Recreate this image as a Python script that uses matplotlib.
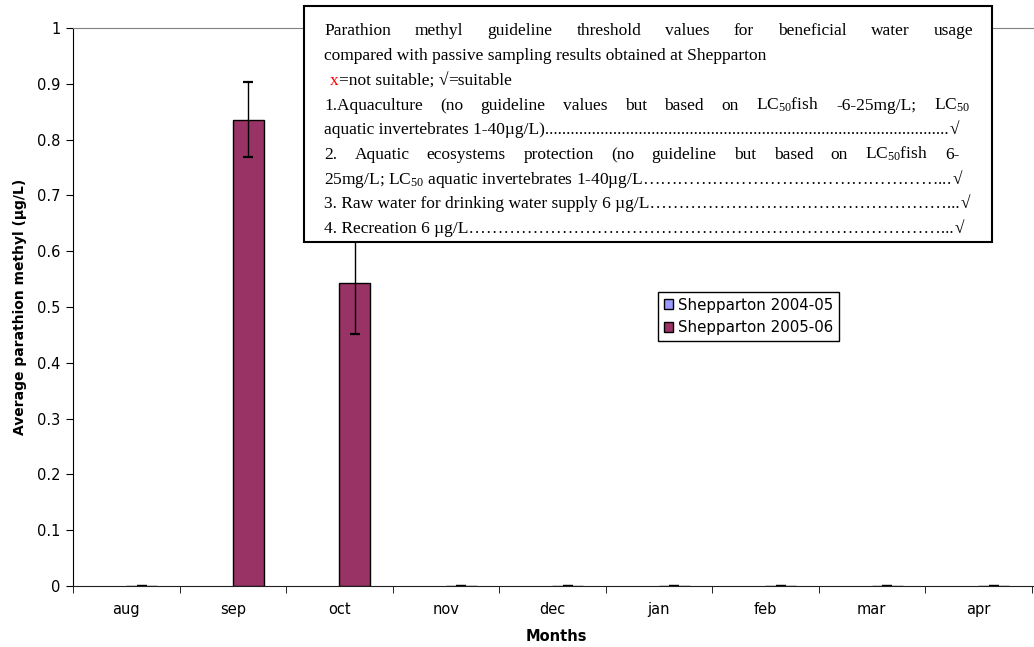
import numpy as np
import matplotlib
matplotlib.use('Agg')
import matplotlib.pyplot as plt
from matplotlib.patches import Rectangle, Patch
from matplotlib.transforms import IdentityTransform

# data
months = ['aug', 'sep', 'oct', 'nov', 'dec', 'jan', 'feb', 'mar', 'apr']
shep_0405 = [0, 0, 0, 0, 0, 0, 0, 0, 0]
shep_0506 = [0, 0.836, 0.5425, 0, 0, 0, 0, 0, 0]
err_0506 = [0, 0.067, 0.09, 0, 0, 0, 0, 0, 0]
series_names = ['Shepparton 2004-05', 'Shepparton 2005-06']
colors = ['#9999ff', '#993366']

plt.rcParams['font.family'] = ['DejaVu Sans']
plt.rcParams['mathtext.fontset'] = 'custom'
plt.rcParams['mathtext.rm'] = 'Liberation Serif'
plt.rcParams['mathtext.default'] = 'rm'

W, H = 1034, 647
fig = plt.figure(figsize=(W / 100, H / 100), dpi=100)
ax = fig.add_axes([73 / W, (H - 586) / H, (W - 73) / W, (586 - 28) / H])

x = np.arange(len(months))
bw = 0.29
ax.bar(x - bw / 2, shep_0405, bw, color=colors[0], edgecolor='black', linewidth=0)
ax.bar(x + bw / 2, shep_0506, bw, color=colors[1], edgecolor='black', linewidth=1,
       yerr=err_0506, capsize=3.5, error_kw=dict(elinewidth=1, capthick=1.6, ecolor='black'))

ax.set_ylim(0, 1)
ax.set_xlim(-0.5, -0.5 + (W - 73) / 106.5)
ax.set_yticks(np.arange(0, 1.01, 0.1))
ax.set_yticklabels(['0', '0.1', '0.2', '0.3', '0.4', '0.5', '0.6', '0.7', '0.8', '0.9', '1'])
ax.set_xticks(x)
ax.set_xticklabels(months)
ax.set_xticks(np.arange(-0.5, len(months), 1), minor=True)
ax.tick_params(axis='y', direction='out', length=5, labelsize=10.5, pad=4)
ax.tick_params(axis='x', which='major', length=0, labelsize=10.5, pad=11.5)
ax.tick_params(axis='x', which='minor', direction='out', length=5)

ax.spines['right'].set_visible(False)
ax.spines['top'].set_color('#808080')
ax.spines['left'].set_color('black')
ax.spines['bottom'].set_color('#202020')

ax.set_ylabel('Average parathion methyl (µg/L)', fontsize=10, fontweight='bold')
ax.yaxis.set_label_coords((27 - 73) / (W - 73), 0.5 - (307 - 307) / 558)
ax.set_xlabel('Months', fontsize=10.5, fontweight='bold')
ax.xaxis.set_label_coords((556 - 73) / (W - 73), -(629 - 586) / (586 - 28))

handles = [Patch(facecolor=c, edgecolor='black', linewidth=1) for c in colors]
fig.legend(handles, series_names, loc='upper left', bbox_to_anchor=(658 / W, 1 - 292 / H),
           bbox_transform=fig.transFigure, fancybox=False, edgecolor='black', framealpha=1,
           fontsize=10.8, handlelength=0.65, handleheight=0.65, handletextpad=0.3,
           labelspacing=0.5, borderpad=0.38, borderaxespad=0)

# guideline text box
fig.add_artist(Rectangle((304, H - 242), 688, 236, transform=IdentityTransform(),
                         facecolor='white', edgecolor='black', linewidth=1.5, zorder=5))

FS = 12.5
renderer = fig.canvas.get_renderer()


def put(xp, yp, s, **kw):
    return fig.text(xp, H - yp, s, transform=IdentityTransform(), family='Liberation Serif',
                    fontsize=FS, va='baseline', ha='left', zorder=6, **kw)


def wid(t):
    return t.get_window_extent(renderer).width


def justified(s, yp, x0, x1):
    ts = [put(x0, yp, w) for w in s.split()]
    ws = [wid(t) for t in ts]
    gap = (x1 - x0 - sum(ws)) / (len(ws) - 1)
    xp = x0
    for t, w in zip(ts, ws):
        t.set_x(xp)
        xp += w + gap


def leader_line(prefix, yp, x0, xend, leader, tail=''):
    t = put(x0, yp, prefix)
    w = wid(t)
    probe = put(0, yp, leader * 20)
    lw = wid(probe) / 20
    probe.remove()
    tw = 0
    if tail:
        pt = put(0, yp, tail)
        tw = wid(pt)
        pt.remove()
    n = max(int(round((xend - x0 - w - tw) / lw)), 0)
    t.set_text(prefix + leader * n + tail)
    put(x0 + wid(t) + 1, yp, '√', fontweight='bold')


justified('Parathion methyl guideline threshold values for beneficial water usage', 35, 324, 973)
put(324, 60, 'compared with passive sampling results obtained at Shepparton')

t = put(330, 85, 'x', color='red')
xp = 330 + wid(t)
t = put(xp, 85, '=not suitable;')
xp += wid(t) + FS * 0.25 * 100 / 72
t = put(xp, 85, '√', fontweight='bold')
xp += wid(t)
put(xp, 85, '=suitable')

justified('1.Aquaculture (no guideline values but based on LC$_{50}$fish -6-25mg/L; LC$_{50}$',
          110, 324, 970)
leader_line('aquatic invertebrates 1-40µg/L)', 134, 324, 950, '.')
justified('2. Aquatic ecosystems protection (no guideline but based on LC$_{50}$fish 6-',
          159, 324, 960)
leader_line('25mg/L; LC$_{50}$ aquatic invertebrates 1-40µg/L', 184, 324, 953, '…', '...')
leader_line('3. Raw water for drinking water supply 6 µg/L', 208, 324, 958, '…', '...')
leader_line('4. Recreation 6 µg/L', 233, 324, 960, '…', '...')

fig.savefig('out.png', dpi=100)
